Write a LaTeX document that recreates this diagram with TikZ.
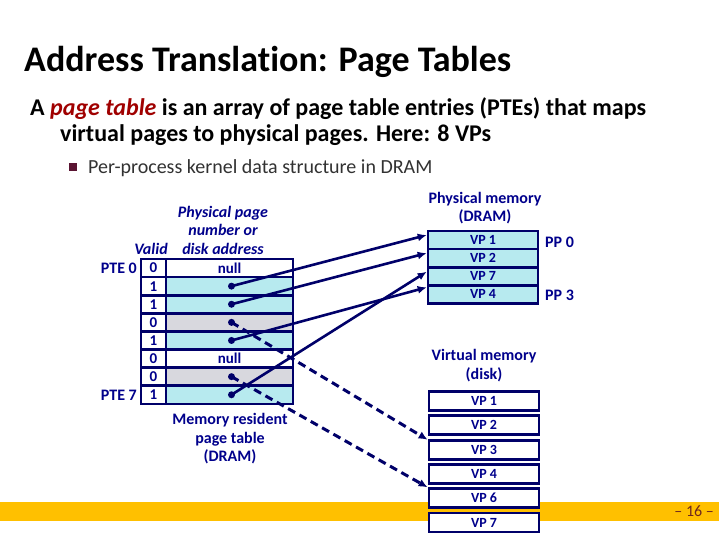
\documentclass[tikz,border=0pt]{standalone}
\usepackage{fontspec}
\setmainfont{Carlito}[Ligatures=NoCommon]
\usetikzlibrary{arrows.meta,calc}
\definecolor{navy}{RGB}{0,0,105}
\definecolor{tnavy}{RGB}{0,0,140}
\definecolor{cyanf}{RGB}{183,234,239}
\definecolor{grayf}{RGB}{216,216,222}
\definecolor{maroonc}{RGB}{160,0,0}
\definecolor{bulletc}{RGB}{90,20,50}
\definecolor{bandc}{RGB}{255,192,0}
\definecolor{pagenum}{RGB}{110,40,30}
\definecolor{subtext}{RGB}{50,50,50}
\begin{document}
\begin{tikzpicture}[x=1pt,y=-1pt,
  dfont/.style={font=\fontsize{16}{18.5}\selectfont\bfseries},
  lbl/.style={dfont,text=tnavy,inner sep=0pt,align=center},
  ilbl/.style={lbl,font=\fontsize{16}{18.5}\selectfont\bfseries\itshape},
  vcell/.style={draw=navy,line width=2.6pt,minimum width=25pt,minimum height=18.1pt,inner sep=0pt,fill=white,font=\fontsize{15}{16}\selectfont\bfseries,text=tnavy},
  acell/.style={draw=navy,line width=2.6pt,minimum width=127pt,minimum height=18.1pt,inner sep=0pt,font=\fontsize{15}{16}\selectfont\bfseries,text=tnavy},
  pmcell/.style={draw=navy,line width=2.6pt,fill=cyanf,minimum width=110pt,minimum height=18.1pt,inner sep=0pt,font=\fontsize{14}{15}\selectfont\bfseries,text=tnavy},
  dkcell/.style={draw=navy,line width=2.8pt,fill=white,minimum width=110pt,minimum height=19pt,inner sep=0pt,font=\fontsize{14}{15}\selectfont\bfseries,text=tnavy},
  dotn/.style={circle,fill=navy,inner sep=0pt,minimum size=7pt},
  solidarrow/.style={draw=navy,line width=2.6pt,-{Latex[length=9pt,width=8pt]}},
  dasharrow/.style={draw=navy,line width=3pt,dash pattern=on 8pt off 5pt,-{Latex[length=9pt,width=8pt]}}
]
\useasboundingbox (0,0) rectangle (719,539);
\fill[white] (0,0) rectangle (719,539);
% footer band
\fill[bandc] (0,502) rectangle (719,521);
\node[anchor=east,inner sep=0pt,text=pagenum,font=\fontsize{16}{18}\selectfont] (pg) at (714,511.5) {-- 16 --};

% title and body
\node[anchor=base west,inner sep=0pt,font=\fontsize{36}{40}\selectfont\bfseries] (title) at (24,71) {Address Translation: Page Tables};
\node[anchor=base west,inner sep=0pt,font=\fontsize{24}{28}\selectfont\bfseries] (l1) at (30,115)
  {A \textcolor{maroonc}{\itshape page table} is an array of page table entries (PTEs) that maps};
\node[anchor=base west,inner sep=0pt,font=\fontsize{24}{28}\selectfont\bfseries] (l2) at (60,141)
  {virtual pages to physical pages. Here: 8 VPs};
\node[fill=bulletc,minimum size=8pt,inner sep=0pt] (bul) at (73,167) {};
\node[anchor=base west,inner sep=0pt,text=subtext,font=\fontsize{20}{24}\selectfont] (l3) at (88,173)
  {Per-process kernel data structure in DRAM};

% page table headers
\node[ilbl] (hpp) at (223,230) {Physical page\\number or\\disk address};
\node[ilbl] (hv) at (151,249) {Valid};

% page table rows
\foreach \i/\v/\f/\t in {0/0/white/null,1/1/cyanf/,2/1/cyanf/,3/0/grayf/,4/1/cyanf/,5/0/white/null,6/0/grayf/,7/1/cyanf/}{
  \node[vcell] (v\i) at (153.5,{259+18.1*(\i+0.5)}) {\v};
  \node[acell,fill=\f] (a\i) at (229.5,{259+18.1*(\i+0.5)}) {\t};
}
\foreach \i in {1,2,3,4,6,7}{
  \node[dotn] (d\i) at ($(a\i.center)+(2,0)$) {};
}
\node[lbl,anchor=east] (pte0) at (137,268) {PTE 0};
\node[lbl,anchor=east] (pte7) at (137,395) {PTE 7};
\node[lbl] (mrpt) at (230,439) {Memory resident\\page table\\(DRAM)};

% physical memory
\node[lbl] (hpm) at (485,208) {Physical memory\\(DRAM)};
\foreach \i/\t in {1/VP 1,2/VP 2,3/VP 7,4/VP 4}{
  \node[pmcell] (pm\i) at (483,{231+18.1*(\i-0.5)}) {\t};
}
\node[lbl,anchor=west] (pp0) at (545,242) {PP 0};
\node[lbl,anchor=west] (pp3) at (545,295) {PP 3};

% virtual memory (disk)
\node[lbl] (hvm) at (484,365.5) {Virtual memory\\(disk)};
\foreach \i/\t in {1/VP 1,2/VP 2,3/VP 3,4/VP 4,5/VP 6,6/VP 7}{
  \node[dkcell] (dk\i) at (484,{401+24.3*(\i-1)}) {\t};
}

% connectors
\draw[solidarrow] (d1.center) -- ($(pm1.west)+(0,-5)$);
\draw[solidarrow] (d2.center) -- ($(pm2.west)+(0,-5)$);
\draw[solidarrow] (d4.center) -- ($(pm4.west)+(0,-7)$);
\draw[solidarrow] (d7.center) -- ($(pm3.west)+(0,-4.5)$);
\draw[dasharrow] (d3.center) -- ($(dk3.north west)+(0,1)$);
\draw[dasharrow] (d6.center) -- ($(dk5.north west)+(0,0)$);
\end{tikzpicture}
\end{document}
